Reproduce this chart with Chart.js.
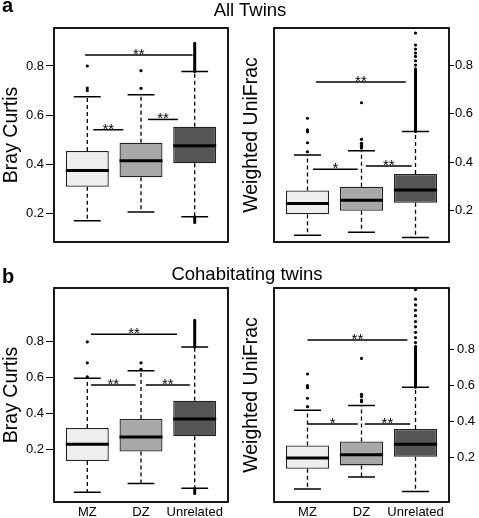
<!DOCTYPE html>
<html><head><meta charset="utf-8">
<script src="https://cdn.jsdelivr.net/npm/chart.js@4.4.1/dist/chart.umd.min.js"></script>
<style>
html,body{margin:0;padding:0;background:#fff;}
#wrap{position:relative;width:479px;height:518px;overflow:hidden;font-family:"Liberation Sans",Arial,Helvetica,sans-serif;color:#000;}
.cv{position:absolute;}
.lbl{position:absolute;white-space:nowrap;line-height:18px;}
</style></head><body>
<div id="wrap">
 <canvas id="cAL" class="cv" width="240" height="255" style="left:0;top:0"></canvas>
 <canvas id="cAR" class="cv" width="239" height="255" style="left:240px;top:0"></canvas>
 <canvas id="cBL" class="cv" width="240" height="263" style="left:0;top:255px"></canvas>
 <canvas id="cBR" class="cv" width="239" height="263" style="left:240px;top:255px"></canvas>
 <div class="lbl" style="left:2px;top:-4px;font-size:20px;font-weight:bold;">a</div>
 <div class="lbl" style="left:250px;top:1px;font-size:18.5px;transform:translateX(-50%)">All Twins</div>
 <div class="lbl" style="left:2px;top:267px;font-size:20px;font-weight:bold;">b</div>
 <div class="lbl" style="left:247px;top:265px;font-size:18.5px;transform:translateX(-50%)">Cohabitating twins</div>
</div>
<script>
const categories = ['MZ', 'DZ', 'Unrelated'];
const boxColors = ['#eeeeee', '#a8a8a8', '#555555'];
const yTickValues = [0.2, 0.4, 0.6, 0.8];

// a – All twins, Bray Curtis
const aBrayLow = [0.169, 0.204, 0.185];
const aBrayQ1 = [0.307, 0.346, 0.403];
const aBrayMed = [0.374, 0.413, 0.475];
const aBrayQ3 = [0.453, 0.487, 0.552];
const aBrayHigh = [0.675, 0.683, 0.778];
const aBrayOut = [[0.700, 0.710, 0.800], [0.709, 0.781], []];
const aBrayDense = [[], [], [[0.778, 0.893], [0.162, 0.185]]];
const aBraySig = [[0.96, 2.96, 0.845, '**'], [1.11, 1.67, 0.540, '**'], [2.13, 2.69, 0.582, '**']];

// a – All twins, Weighted UniFrac
const aUniLow = [0.099, 0.111, 0.090];
const aUniQ1 = [0.185, 0.200, 0.233];
const aUniMed = [0.230, 0.243, 0.285];
const aUniQ3 = [0.283, 0.299, 0.351];
const aUniHigh = [0.430, 0.447, 0.526];
const aUniOut = [[0.443, 0.480, 0.525, 0.533, 0.581], [0.458, 0.465, 0.470, 0.478, 0.494, 0.645], [0.800, 0.818, 0.836, 0.850, 0.866, 0.883, 0.932]];
const aUniDense = [[], [], [[0.526, 0.785]]];
const aUniSig = [[1.16, 2.82, 0.730, '**'], [1.10, 1.93, 0.371, '*'], [2.08, 2.93, 0.384, '**']];

// b – Cohabitating twins, Bray Curtis
const bBrayLow = [-0.037, 0.011, -0.015];
const bBrayQ1 = [0.136, 0.189, 0.274];
const bBrayMed = [0.230, 0.270, 0.370];
const bBrayQ3 = [0.320, 0.370, 0.472];
const bBrayHigh = [0.597, 0.639, 0.772];
const bBrayOut = [[0.605, 0.683, 0.800], [0.647, 0.683], []];
const bBrayDense = [[], [], [[0.772, 0.920], [-0.045, -0.015]]];
const bBraySig = [[1.07, 2.67, 0.843, '**'], [1.07, 1.90, 0.560, '**'], [2.09, 2.91, 0.560, '**']];

// b – Cohabitating twins, Weighted UniFrac
const bUniLow = [0.024, 0.091, 0.011];
const bUniQ1 = [0.137, 0.156, 0.204];
const bUniMed = [0.197, 0.215, 0.274];
const bUniQ3 = [0.267, 0.289, 0.359];
const bUniHigh = [0.463, 0.489, 0.591];
const bUniOut = [[0.483, 0.530, 0.589, 0.600, 0.665], [0.511, 0.520, 0.540, 0.552, 0.752], [0.840, 0.868, 0.897, 0.928, 0.957, 0.990, 1.020, 1.050, 1.082, 1.135]];
const bUniDense = [[], [], [[0.591, 0.820]]];
const bUniSig = [[1.00, 2.85, 0.854, '**'], [1.00, 1.93, 0.387, '*'], [2.06, 2.90, 0.387, '**']];

const FONT = '"Liberation Sans", Arial, Helvetica, sans-serif';

function boxPlugin(s) {
  return {
    id: 'boxExtras',
    beforeDatasetsDraw(chart) {
      const { ctx, scales: { x, y } } = chart;
      ctx.save();
      ctx.strokeStyle = '#000';
      for (let i = 0; i < categories.length; i++) {
        const px = x.getPixelForValue(i + 1);
        ctx.lineWidth = 1.3;
        ctx.setLineDash([4, 3]);
        ctx.beginPath();
        ctx.moveTo(px, y.getPixelForValue(s.q3[i])); ctx.lineTo(px, y.getPixelForValue(s.high[i]));
        ctx.moveTo(px, y.getPixelForValue(s.q1[i])); ctx.lineTo(px, y.getPixelForValue(s.low[i]));
        ctx.stroke();
        ctx.setLineDash([]);
        ctx.lineWidth = 1.5;
        ctx.beginPath();
        const l = x.getPixelForValue(i + 1 - 0.25), r = x.getPixelForValue(i + 1 + 0.25);
        ctx.moveTo(l, y.getPixelForValue(s.high[i])); ctx.lineTo(r, y.getPixelForValue(s.high[i]));
        ctx.moveTo(l, y.getPixelForValue(s.low[i])); ctx.lineTo(r, y.getPixelForValue(s.low[i]));
        ctx.stroke();
      }
      ctx.restore();
    },
    afterDatasetsDraw(chart) {
      const { ctx, chartArea, scales: { x, y } } = chart;
      ctx.save();
      ctx.strokeStyle = '#000';
      // medians
      ctx.lineWidth = 3;
      for (let i = 0; i < categories.length; i++) {
        const l = x.getPixelForValue(i + 1 - 0.4), r = x.getPixelForValue(i + 1 + 0.4);
        const py = y.getPixelForValue(s.med[i]);
        ctx.beginPath(); ctx.moveTo(l, py); ctx.lineTo(r, py); ctx.stroke();
      }
      // dense outlier runs
      ctx.lineWidth = 3;
      ctx.lineCap = 'round';
      for (let i = 0; i < categories.length; i++) {
        const px = x.getPixelForValue(i + 1);
        s.dense[i].forEach(([a, b]) => {
          ctx.beginPath(); ctx.moveTo(px, y.getPixelForValue(a)); ctx.lineTo(px, y.getPixelForValue(b)); ctx.stroke();
        });
      }
      ctx.lineCap = 'butt';
      // significance bars
      ctx.lineWidth = 1.5;
      ctx.fillStyle = '#000';
      ctx.font = '15px ' + FONT;
      ctx.textAlign = 'center';
      ctx.textBaseline = 'alphabetic';
      s.sig.forEach(([a, b, v, t]) => {
        const py = y.getPixelForValue(v);
        const l = x.getPixelForValue(a), r = x.getPixelForValue(b);
        ctx.beginPath(); ctx.moveTo(l, py); ctx.lineTo(r, py); ctx.stroke();
        ctx.fillText(t, (l + r) / 2, py + 4);
      });
      // frame
      ctx.lineWidth = 1.8;
      ctx.strokeRect(chartArea.left, chartArea.top, chartArea.right - chartArea.left, chartArea.bottom - chartArea.top);
      ctx.restore();
    }
  };
}

function makeChart(id, s, o) {
  const boxData = categories.map((c, i) => ({ x: i + 1, y: [s.q1[i], s.q3[i]] }));
  const outData = [];
  s.out.forEach((arr, i) => arr.forEach(v => outData.push({ x: i + 1, y: v })));
  const scales = {
    x: {
      type: 'linear', min: 0.38, max: 3.62, offset: false,
      grid: { display: false, drawTicks: false, tickLength: 0, offset: false }, border: { display: false },
      afterBuildTicks: a => { a.ticks = categories.map((c, i) => ({ value: i + 1 })); },
      ticks: { display: o.showX, padding: 3, autoSkip: false, maxRotation: 0, color: '#000', font: { family: FONT, size: 13 },
        callback: v => categories[Math.round(v) - 1] },
      afterFit: sc => { sc.height = o.xh; }
    },
    y: {
      type: 'linear', min: o.yMin, max: o.yMax, position: o.side,
      grid: { display: true, drawOnChartArea: false, drawTicks: true, tickLength: o.tickLen, color: '#000', tickColor: '#000', lineWidth: 1 },
      border: { display: false },
      afterBuildTicks: a => { a.ticks = yTickValues.map(v => ({ value: v })); },
      ticks: { padding: o.tickPad, color: '#000', font: { family: FONT, size: 13 }, callback: v => Number(v).toFixed(1) },
      title: { display: o.side === 'left', text: o.title, color: '#000', font: { family: FONT, size: 19.5 }, padding: 0 },
      afterFit: sc => { sc.width = o.yw; }
    }
  };
  if (o.side === 'right') {
    scales.yt = {
      type: 'linear', min: o.yMin, max: o.yMax, position: 'left',
      grid: { display: false, drawTicks: false }, border: { display: false },
      ticks: { display: false },
      title: { display: true, text: o.title, color: '#000', font: { family: FONT, size: 19.5 }, padding: 0 },
      afterFit: sc => { sc.width = o.lw; }
    };
  }
  return new Chart(document.getElementById(id), {
    type: 'bar',
    data: {
      datasets: [
        { type: 'bar', data: boxData, backgroundColor: boxColors, borderColor: '#222', borderWidth: 1.3,
          borderSkipped: false, barPercentage: 0.8, categoryPercentage: 1.0 },
        { type: 'scatter', data: outData, pointRadius: 1.6, pointBackgroundColor: '#000', pointBorderWidth: 0, showLine: false }
      ]
    },
    options: {
      responsive: false, animation: false,
      layout: { padding: { top: o.top, right: o.right, left: 0, bottom: 0 } },
      plugins: { legend: { display: false }, tooltip: { enabled: false } },
      scales
    },
    plugins: [boxPlugin(s)]
  });
}

makeChart('cAL', { low: aBrayLow, q1: aBrayQ1, med: aBrayMed, q3: aBrayQ3, high: aBrayHigh, out: aBrayOut, dense: aBrayDense, sig: aBraySig },
  { yMin: 0.082, yMax: 0.955, side: 'left', title: 'Bray Curtis', yw: 54, top: 28, right: 12, xh: 13, showX: false, tickLen: 8, tickPad: 2 });
makeChart('cAR', { low: aUniLow, q1: aUniQ1, med: aUniMed, q3: aUniQ3, high: aUniHigh, out: aUniOut, dense: aUniDense, sig: aUniSig },
  { yMin: 0.071, yMax: 0.953, side: 'right', title: 'Weighted UniFrac', yw: 30, lw: 34, top: 28, right: 0, xh: 13, showX: false, tickLen: 5, tickPad: 1 });
makeChart('cBL', { low: bBrayLow, q1: bBrayQ1, med: bBrayMed, q3: bBrayQ3, high: bBrayHigh, out: bBrayOut, dense: bBrayDense, sig: bBraySig },
  { yMin: -0.092, yMax: 1.1, side: 'left', title: 'Bray Curtis', yw: 54, top: 33, right: 12, xh: 16, showX: true, tickLen: 8, tickPad: 2 });
makeChart('cBR', { low: bUniLow, q1: bUniQ1, med: bUniMed, q3: bUniQ3, high: bUniHigh, out: bUniOut, dense: bUniDense, sig: bUniSig },
  { yMin: -0.048, yMax: 1.144, side: 'right', title: 'Weighted UniFrac', yw: 30, lw: 34, top: 33, right: 0, xh: 16, showX: true, tickLen: 5, tickPad: 3 });
</script>
</body></html>
